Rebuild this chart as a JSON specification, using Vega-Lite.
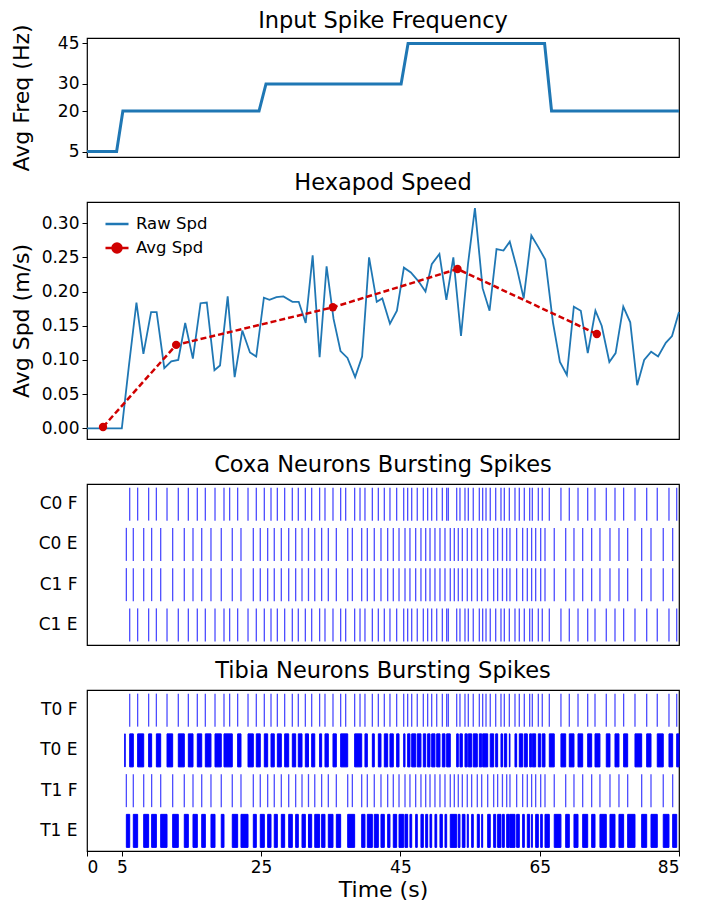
{
  "$schema": "https://vega.github.io/schema/vega-lite/v6.json",
  "padding": {"left": 9, "top": 9, "right": 5, "bottom": 0},
  "bounds": "flush",
  "spacing": 45,
  "resolve": {"scale": {"color": "independent"}, "legend": {"color": "independent"}},
  "config": {
    "font": "DejaVu Sans",
    "view": {"stroke": "#000", "strokeWidth": 1.2},
    "axis": {"labelFontSize": 17, "titleFontSize": 22, "titleFontWeight": "normal", "labelColor": "#000", "titleColor": "#000", "tickColor": "#000", "grid": false, "domain": false, "tickSize": 5, "labelPadding": 3, "labelFont": "DejaVu Sans", "titleFont": "DejaVu Sans", "labelOverlap": false},
    "title": {"fontSize": 22.5, "fontWeight": "normal", "color": "#000", "offset": 8, "font": "DejaVu Sans", "frame": "group"}
  },
  "datasets": {
    "freq": [
      {"t": 0, "hz": 5}, {"t": 4.25, "hz": 5}, {"t": 5.15, "hz": 20}, {"t": 24.7, "hz": 20}, {"t": 25.7, "hz": 30},
      {"t": 45.1, "hz": 30}, {"t": 46.1, "hz": 45}, {"t": 65.7, "hz": 45}, {"t": 66.7, "hz": 20}, {"t": 85, "hz": 20}
    ],
    "raw": [
      {"t": 0, "v": 0.0}, {"t": 1, "v": 0.0}, {"t": 2, "v": 0.0}, {"t": 3, "v": 0.0}, {"t": 4, "v": 0.0}, {"t": 5.0, "v": 0.0},
      {"t": 6.0, "v": 0.09}, {"t": 7.1, "v": 0.184}, {"t": 8.1, "v": 0.109}, {"t": 9.2, "v": 0.17}, {"t": 10.0, "v": 0.17},
      {"t": 11.1, "v": 0.088}, {"t": 12.1, "v": 0.098}, {"t": 13.1, "v": 0.1}, {"t": 14.1, "v": 0.154}, {"t": 15.2, "v": 0.102},
      {"t": 16.3, "v": 0.183}, {"t": 17.2, "v": 0.184}, {"t": 18.3, "v": 0.085}, {"t": 19.1, "v": 0.092}, {"t": 20.2, "v": 0.193},
      {"t": 21.2, "v": 0.075}, {"t": 22.3, "v": 0.143}, {"t": 23.4, "v": 0.111}, {"t": 24.3, "v": 0.105}, {"t": 25.4, "v": 0.191},
      {"t": 26.2, "v": 0.188}, {"t": 27.2, "v": 0.192}, {"t": 28.2, "v": 0.193}, {"t": 29.5, "v": 0.185}, {"t": 30.4, "v": 0.185},
      {"t": 31.4, "v": 0.154}, {"t": 32.4, "v": 0.253}, {"t": 33.4, "v": 0.104}, {"t": 34.4, "v": 0.237}, {"t": 35.4, "v": 0.16},
      {"t": 36.4, "v": 0.113}, {"t": 37.4, "v": 0.103}, {"t": 38.5, "v": 0.075}, {"t": 39.5, "v": 0.105}, {"t": 40.5, "v": 0.25},
      {"t": 41.6, "v": 0.185}, {"t": 42.4, "v": 0.19}, {"t": 43.5, "v": 0.153}, {"t": 44.5, "v": 0.172}, {"t": 45.5, "v": 0.235},
      {"t": 46.5, "v": 0.228}, {"t": 47.6, "v": 0.215}, {"t": 48.6, "v": 0.2}, {"t": 49.5, "v": 0.24}, {"t": 50.6, "v": 0.255},
      {"t": 51.6, "v": 0.188}, {"t": 52.6, "v": 0.25}, {"t": 53.7, "v": 0.135}, {"t": 54.7, "v": 0.24}, {"t": 55.7, "v": 0.322},
      {"t": 56.8, "v": 0.205}, {"t": 57.8, "v": 0.172}, {"t": 58.8, "v": 0.262}, {"t": 59.8, "v": 0.26}, {"t": 60.7, "v": 0.273},
      {"t": 61.7, "v": 0.235}, {"t": 62.7, "v": 0.19}, {"t": 63.8, "v": 0.282}, {"t": 64.8, "v": 0.265}, {"t": 65.8, "v": 0.247},
      {"t": 66.9, "v": 0.155}, {"t": 67.9, "v": 0.097}, {"t": 68.9, "v": 0.078}, {"t": 69.9, "v": 0.178}, {"t": 70.9, "v": 0.172},
      {"t": 71.9, "v": 0.11}, {"t": 73.0, "v": 0.172}, {"t": 73.9, "v": 0.15}, {"t": 75.0, "v": 0.097}, {"t": 75.9, "v": 0.11},
      {"t": 77.0, "v": 0.178}, {"t": 78.0, "v": 0.155}, {"t": 79.0, "v": 0.063}, {"t": 80.0, "v": 0.1}, {"t": 81.0, "v": 0.112},
      {"t": 82.0, "v": 0.105}, {"t": 83.1, "v": 0.125}, {"t": 84.0, "v": 0.135}, {"t": 85.0, "v": 0.17}
    ],
    "avg": [
      {"t": 2.3, "v": 0.002}, {"t": 12.8, "v": 0.122}, {"t": 35.3, "v": 0.177}, {"t": 53.2, "v": 0.233}, {"t": 73.2, "v": 0.138}
    ],
    "coxa": [
      {"n":"C0 F","t":6.13},{"n":"C0 F","t":7.27},{"n":"C0 F","t":8.85},{"n":"C0 F","t":9.96},{"n":"C0 F","t":11.49},{"n":"C0 F","t":13.11},{"n":"C0 F","t":14.55},{"n":"C0 F","t":15.84},{"n":"C0 F","t":16.99},{"n":"C0 F","t":18.38},{"n":"C0 F","t":19.67},{"n":"C0 F","t":20.48},{"n":"C0 F","t":21.63},{"n":"C0 F","t":23.12},{"n":"C0 F","t":24.31},{"n":"C0 F","t":25.46},{"n":"C0 F","t":26.42},{"n":"C0 F","t":27.33},{"n":"C0 F","t":28.38},{"n":"C0 F","t":29.48},{"n":"C0 F","t":30.34},{"n":"C0 F","t":31.35},{"n":"C0 F","t":32.26},{"n":"C0 F","t":33.4},{"n":"C0 F","t":34.17},{"n":"C0 F","t":35.32},{"n":"C0 F","t":36.42},{"n":"C0 F","t":37.14},{"n":"C0 F","t":38.43},{"n":"C0 F","t":39.2},{"n":"C0 F","t":39.91},{"n":"C0 F","t":40.97},{"n":"C0 F","t":41.83},{"n":"C0 F","t":42.69},{"n":"C0 F","t":43.5},{"n":"C0 F","t":44.46},{"n":"C0 F","t":45.47},{"n":"C0 F","t":46.04},{"n":"C0 F","t":46.62},{"n":"C0 F","t":47.42},{"n":"C0 F","t":48.29},{"n":"C0 F","t":48.91},{"n":"C0 F","t":49.49},{"n":"C0 F","t":50.21},{"n":"C0 F","t":51.02},{"n":"C0 F","t":51.64},{"n":"C0 F","t":51.88},{"n":"C0 F","t":53.08},{"n":"C0 F","t":53.55},{"n":"C0 F","t":54.27},{"n":"C0 F","t":54.75},{"n":"C0 F","t":55.46},{"n":"C0 F","t":56.33},{"n":"C0 F","t":56.81},{"n":"C0 F","t":57.29},{"n":"C0 F","t":57.9},{"n":"C0 F","t":58.68},{"n":"C0 F","t":59.44},{"n":"C0 F","t":59.92},{"n":"C0 F","t":60.64},{"n":"C0 F","t":61.45},{"n":"C0 F","t":62.07},{"n":"C0 F","t":62.79},{"n":"C0 F","t":63.56},{"n":"C0 F","t":63.94},{"n":"C0 F","t":64.8},{"n":"C0 F","t":65.37},{"n":"C0 F","t":66.38},{"n":"C0 F","t":68.05},{"n":"C0 F","t":69.25},{"n":"C0 F","t":70.5},{"n":"C0 F","t":71.89},{"n":"C0 F","t":72.94},{"n":"C0 F","t":74.56},{"n":"C0 F","t":75.81},{"n":"C0 F","t":77.05},{"n":"C0 F","t":78.68},{"n":"C0 F","t":80.36},{"n":"C0 F","t":81.88},{"n":"C0 F","t":83.56},{"n":"C0 F","t":84.67},
      {"n":"C1 E","t":6.13},{"n":"C1 E","t":7.27},{"n":"C1 E","t":8.85},{"n":"C1 E","t":9.96},{"n":"C1 E","t":11.49},{"n":"C1 E","t":13.11},{"n":"C1 E","t":14.55},{"n":"C1 E","t":15.84},{"n":"C1 E","t":16.99},{"n":"C1 E","t":18.38},{"n":"C1 E","t":19.67},{"n":"C1 E","t":20.48},{"n":"C1 E","t":21.63},{"n":"C1 E","t":23.12},{"n":"C1 E","t":24.31},{"n":"C1 E","t":25.46},{"n":"C1 E","t":26.42},{"n":"C1 E","t":27.33},{"n":"C1 E","t":28.38},{"n":"C1 E","t":29.48},{"n":"C1 E","t":30.34},{"n":"C1 E","t":31.35},{"n":"C1 E","t":32.26},{"n":"C1 E","t":33.4},{"n":"C1 E","t":34.17},{"n":"C1 E","t":35.32},{"n":"C1 E","t":36.42},{"n":"C1 E","t":37.14},{"n":"C1 E","t":38.43},{"n":"C1 E","t":39.2},{"n":"C1 E","t":39.91},{"n":"C1 E","t":40.97},{"n":"C1 E","t":41.83},{"n":"C1 E","t":42.69},{"n":"C1 E","t":43.5},{"n":"C1 E","t":44.46},{"n":"C1 E","t":45.47},{"n":"C1 E","t":46.04},{"n":"C1 E","t":46.62},{"n":"C1 E","t":47.42},{"n":"C1 E","t":48.29},{"n":"C1 E","t":48.91},{"n":"C1 E","t":49.49},{"n":"C1 E","t":50.21},{"n":"C1 E","t":51.02},{"n":"C1 E","t":51.64},{"n":"C1 E","t":51.88},{"n":"C1 E","t":53.08},{"n":"C1 E","t":53.55},{"n":"C1 E","t":54.27},{"n":"C1 E","t":54.75},{"n":"C1 E","t":55.46},{"n":"C1 E","t":56.33},{"n":"C1 E","t":56.81},{"n":"C1 E","t":57.29},{"n":"C1 E","t":57.9},{"n":"C1 E","t":58.68},{"n":"C1 E","t":59.44},{"n":"C1 E","t":59.92},{"n":"C1 E","t":60.64},{"n":"C1 E","t":61.45},{"n":"C1 E","t":62.07},{"n":"C1 E","t":62.79},{"n":"C1 E","t":63.56},{"n":"C1 E","t":63.94},{"n":"C1 E","t":64.8},{"n":"C1 E","t":65.37},{"n":"C1 E","t":66.38},{"n":"C1 E","t":68.05},{"n":"C1 E","t":69.25},{"n":"C1 E","t":70.5},{"n":"C1 E","t":71.89},{"n":"C1 E","t":72.94},{"n":"C1 E","t":74.56},{"n":"C1 E","t":75.81},{"n":"C1 E","t":77.05},{"n":"C1 E","t":78.68},{"n":"C1 E","t":80.36},{"n":"C1 E","t":81.88},{"n":"C1 E","t":83.56},{"n":"C1 E","t":84.67},
      {"n":"C0 E","t":5.65},{"n":"C0 E","t":6.65},{"n":"C0 E","t":8.14},{"n":"C0 E","t":9.28},{"n":"C0 E","t":10.58},{"n":"C0 E","t":12.3},{"n":"C0 E","t":13.97},{"n":"C0 E","t":15.22},{"n":"C0 E","t":16.47},{"n":"C0 E","t":17.8},{"n":"C0 E","t":19.28},{"n":"C0 E","t":20.86},{"n":"C0 E","t":22.11},{"n":"C0 E","t":23.88},{"n":"C0 E","t":24.88},{"n":"C0 E","t":25.94},{"n":"C0 E","t":26.89},{"n":"C0 E","t":27.9},{"n":"C0 E","t":28.96},{"n":"C0 E","t":29.96},{"n":"C0 E","t":30.87},{"n":"C0 E","t":31.8},{"n":"C0 E","t":32.7},{"n":"C0 E","t":33.69},{"n":"C0 E","t":34.65},{"n":"C0 E","t":35.8},{"n":"C0 E","t":37.43},{"n":"C0 E","t":38.1},{"n":"C0 E","t":39.44},{"n":"C0 E","t":40.25},{"n":"C0 E","t":41.25},{"n":"C0 E","t":42.21},{"n":"C0 E","t":43.17},{"n":"C0 E","t":43.98},{"n":"C0 E","t":44.8},{"n":"C0 E","t":45.66},{"n":"C0 E","t":46.37},{"n":"C0 E","t":47.19},{"n":"C0 E","t":47.95},{"n":"C0 E","t":48.63},{"n":"C0 E","t":49.25},{"n":"C0 E","t":49.96},{"n":"C0 E","t":50.68},{"n":"C0 E","t":51.4},{"n":"C0 E","t":52.16},{"n":"C0 E","t":52.74},{"n":"C0 E","t":53.31},{"n":"C0 E","t":53.89},{"n":"C0 E","t":54.6},{"n":"C0 E","t":55.23},{"n":"C0 E","t":56.04},{"n":"C0 E","t":56.67},{"n":"C0 E","t":57.53},{"n":"C0 E","t":58.39},{"n":"C0 E","t":58.96},{"n":"C0 E","t":59.65},{"n":"C0 E","t":60.26},{"n":"C0 E","t":60.73},{"n":"C0 E","t":61.69},{"n":"C0 E","t":62.55},{"n":"C0 E","t":63.22},{"n":"C0 E","t":63.84},{"n":"C0 E","t":64.42},{"n":"C0 E","t":65.14},{"n":"C0 E","t":65.76},{"n":"C0 E","t":67.09},{"n":"C0 E","t":68.73},{"n":"C0 E","t":69.92},{"n":"C0 E","t":71.17},{"n":"C0 E","t":72.46},{"n":"C0 E","t":73.65},{"n":"C0 E","t":75.09},{"n":"C0 E","t":76.38},{"n":"C0 E","t":77.63},{"n":"C0 E","t":79.64},{"n":"C0 E","t":80.98},{"n":"C0 E","t":82.74},{"n":"C0 E","t":84.09},
      {"n":"C1 F","t":5.65},{"n":"C1 F","t":6.65},{"n":"C1 F","t":8.14},{"n":"C1 F","t":9.28},{"n":"C1 F","t":10.58},{"n":"C1 F","t":12.3},{"n":"C1 F","t":13.97},{"n":"C1 F","t":15.22},{"n":"C1 F","t":16.47},{"n":"C1 F","t":17.8},{"n":"C1 F","t":19.28},{"n":"C1 F","t":20.86},{"n":"C1 F","t":22.11},{"n":"C1 F","t":23.88},{"n":"C1 F","t":24.88},{"n":"C1 F","t":25.94},{"n":"C1 F","t":26.89},{"n":"C1 F","t":27.9},{"n":"C1 F","t":28.96},{"n":"C1 F","t":29.96},{"n":"C1 F","t":30.87},{"n":"C1 F","t":31.8},{"n":"C1 F","t":32.7},{"n":"C1 F","t":33.69},{"n":"C1 F","t":34.65},{"n":"C1 F","t":35.8},{"n":"C1 F","t":37.43},{"n":"C1 F","t":38.1},{"n":"C1 F","t":39.44},{"n":"C1 F","t":40.25},{"n":"C1 F","t":41.25},{"n":"C1 F","t":42.21},{"n":"C1 F","t":43.17},{"n":"C1 F","t":43.98},{"n":"C1 F","t":44.8},{"n":"C1 F","t":45.66},{"n":"C1 F","t":46.37},{"n":"C1 F","t":47.19},{"n":"C1 F","t":47.95},{"n":"C1 F","t":48.63},{"n":"C1 F","t":49.25},{"n":"C1 F","t":49.96},{"n":"C1 F","t":50.68},{"n":"C1 F","t":51.4},{"n":"C1 F","t":52.16},{"n":"C1 F","t":52.74},{"n":"C1 F","t":53.31},{"n":"C1 F","t":53.89},{"n":"C1 F","t":54.6},{"n":"C1 F","t":55.23},{"n":"C1 F","t":56.04},{"n":"C1 F","t":56.67},{"n":"C1 F","t":57.53},{"n":"C1 F","t":58.39},{"n":"C1 F","t":58.96},{"n":"C1 F","t":59.65},{"n":"C1 F","t":60.26},{"n":"C1 F","t":60.73},{"n":"C1 F","t":61.69},{"n":"C1 F","t":62.55},{"n":"C1 F","t":63.22},{"n":"C1 F","t":63.84},{"n":"C1 F","t":64.42},{"n":"C1 F","t":65.14},{"n":"C1 F","t":65.76},{"n":"C1 F","t":67.09},{"n":"C1 F","t":68.73},{"n":"C1 F","t":69.92},{"n":"C1 F","t":71.17},{"n":"C1 F","t":72.46},{"n":"C1 F","t":73.65},{"n":"C1 F","t":75.09},{"n":"C1 F","t":76.38},{"n":"C1 F","t":77.63},{"n":"C1 F","t":79.64},{"n":"C1 F","t":80.98},{"n":"C1 F","t":82.74},{"n":"C1 F","t":84.09}
    ],
    "tibia": [
      {"n":"T0 F","t":6.13},{"n":"T0 F","t":7.27},{"n":"T0 F","t":8.85},{"n":"T0 F","t":9.96},{"n":"T0 F","t":11.49},{"n":"T0 F","t":13.11},{"n":"T0 F","t":14.55},{"n":"T0 F","t":15.84},{"n":"T0 F","t":16.99},{"n":"T0 F","t":18.38},{"n":"T0 F","t":19.67},{"n":"T0 F","t":20.48},{"n":"T0 F","t":21.63},{"n":"T0 F","t":23.12},{"n":"T0 F","t":24.31},{"n":"T0 F","t":25.46},{"n":"T0 F","t":26.42},{"n":"T0 F","t":27.33},{"n":"T0 F","t":28.38},{"n":"T0 F","t":29.48},{"n":"T0 F","t":30.34},{"n":"T0 F","t":31.35},{"n":"T0 F","t":32.26},{"n":"T0 F","t":33.4},{"n":"T0 F","t":34.17},{"n":"T0 F","t":35.32},{"n":"T0 F","t":36.42},{"n":"T0 F","t":37.14},{"n":"T0 F","t":38.43},{"n":"T0 F","t":39.2},{"n":"T0 F","t":39.91},{"n":"T0 F","t":40.97},{"n":"T0 F","t":41.83},{"n":"T0 F","t":42.69},{"n":"T0 F","t":43.5},{"n":"T0 F","t":44.46},{"n":"T0 F","t":45.47},{"n":"T0 F","t":46.04},{"n":"T0 F","t":46.62},{"n":"T0 F","t":47.42},{"n":"T0 F","t":48.29},{"n":"T0 F","t":48.91},{"n":"T0 F","t":49.49},{"n":"T0 F","t":50.21},{"n":"T0 F","t":51.02},{"n":"T0 F","t":51.64},{"n":"T0 F","t":51.88},{"n":"T0 F","t":53.08},{"n":"T0 F","t":53.55},{"n":"T0 F","t":54.27},{"n":"T0 F","t":54.75},{"n":"T0 F","t":55.46},{"n":"T0 F","t":56.33},{"n":"T0 F","t":56.81},{"n":"T0 F","t":57.29},{"n":"T0 F","t":57.9},{"n":"T0 F","t":58.68},{"n":"T0 F","t":59.44},{"n":"T0 F","t":59.92},{"n":"T0 F","t":60.64},{"n":"T0 F","t":61.45},{"n":"T0 F","t":62.07},{"n":"T0 F","t":62.79},{"n":"T0 F","t":63.56},{"n":"T0 F","t":63.94},{"n":"T0 F","t":64.8},{"n":"T0 F","t":65.37},{"n":"T0 F","t":66.38},{"n":"T0 F","t":68.05},{"n":"T0 F","t":69.25},{"n":"T0 F","t":70.5},{"n":"T0 F","t":71.89},{"n":"T0 F","t":72.94},{"n":"T0 F","t":74.56},{"n":"T0 F","t":75.81},{"n":"T0 F","t":77.05},{"n":"T0 F","t":78.68},{"n":"T0 F","t":80.36},{"n":"T0 F","t":81.88},{"n":"T0 F","t":83.56},{"n":"T0 F","t":84.67},
      {"n":"T1 F","t":5.65},{"n":"T1 F","t":6.65},{"n":"T1 F","t":8.14},{"n":"T1 F","t":9.28},{"n":"T1 F","t":10.58},{"n":"T1 F","t":12.3},{"n":"T1 F","t":13.97},{"n":"T1 F","t":15.22},{"n":"T1 F","t":16.47},{"n":"T1 F","t":17.8},{"n":"T1 F","t":19.28},{"n":"T1 F","t":20.86},{"n":"T1 F","t":22.11},{"n":"T1 F","t":23.88},{"n":"T1 F","t":24.88},{"n":"T1 F","t":25.94},{"n":"T1 F","t":26.89},{"n":"T1 F","t":27.9},{"n":"T1 F","t":28.96},{"n":"T1 F","t":29.96},{"n":"T1 F","t":30.87},{"n":"T1 F","t":31.8},{"n":"T1 F","t":32.7},{"n":"T1 F","t":33.69},{"n":"T1 F","t":34.65},{"n":"T1 F","t":35.8},{"n":"T1 F","t":37.43},{"n":"T1 F","t":38.1},{"n":"T1 F","t":39.44},{"n":"T1 F","t":40.25},{"n":"T1 F","t":41.25},{"n":"T1 F","t":42.21},{"n":"T1 F","t":43.17},{"n":"T1 F","t":43.98},{"n":"T1 F","t":44.8},{"n":"T1 F","t":45.66},{"n":"T1 F","t":46.37},{"n":"T1 F","t":47.19},{"n":"T1 F","t":47.95},{"n":"T1 F","t":48.63},{"n":"T1 F","t":49.25},{"n":"T1 F","t":49.96},{"n":"T1 F","t":50.68},{"n":"T1 F","t":51.4},{"n":"T1 F","t":52.16},{"n":"T1 F","t":52.74},{"n":"T1 F","t":53.31},{"n":"T1 F","t":53.89},{"n":"T1 F","t":54.6},{"n":"T1 F","t":55.23},{"n":"T1 F","t":56.04},{"n":"T1 F","t":56.67},{"n":"T1 F","t":57.53},{"n":"T1 F","t":58.39},{"n":"T1 F","t":58.96},{"n":"T1 F","t":59.65},{"n":"T1 F","t":60.26},{"n":"T1 F","t":60.73},{"n":"T1 F","t":61.69},{"n":"T1 F","t":62.55},{"n":"T1 F","t":63.22},{"n":"T1 F","t":63.84},{"n":"T1 F","t":64.42},{"n":"T1 F","t":65.14},{"n":"T1 F","t":65.76},{"n":"T1 F","t":67.09},{"n":"T1 F","t":68.73},{"n":"T1 F","t":69.92},{"n":"T1 F","t":71.17},{"n":"T1 F","t":72.46},{"n":"T1 F","t":73.65},{"n":"T1 F","t":75.09},{"n":"T1 F","t":76.38},{"n":"T1 F","t":77.63},{"n":"T1 F","t":79.64},{"n":"T1 F","t":80.98},{"n":"T1 F","t":82.74},{"n":"T1 F","t":84.09}
    ],
    "bursts": [
      {"n":"T0 E","a":5.42,"b":5.48},{"n":"T0 E","a":6.13,"b":6.65},{"n":"T0 E","a":7.27,"b":8.14},{"n":"T0 E","a":8.85,"b":9.28},{"n":"T0 E","a":9.96,"b":10.58},{"n":"T0 E","a":11.49,"b":12.3},{"n":"T0 E","a":13.11,"b":13.97},{"n":"T0 E","a":14.55,"b":15.22},{"n":"T0 E","a":15.84,"b":16.47},{"n":"T0 E","a":16.99,"b":17.8},{"n":"T0 E","a":18.38,"b":19.28},{"n":"T0 E","a":19.67,"b":20.86},{"n":"T0 E","a":21.63,"b":22.11},{"n":"T0 E","a":23.12,"b":23.88},{"n":"T0 E","a":24.31,"b":24.88},{"n":"T0 E","a":25.46,"b":25.94},{"n":"T0 E","a":26.42,"b":26.89},{"n":"T0 E","a":27.33,"b":27.9},{"n":"T0 E","a":28.38,"b":28.96},{"n":"T0 E","a":29.48,"b":29.96},{"n":"T0 E","a":30.34,"b":30.87},{"n":"T0 E","a":31.35,"b":31.8},{"n":"T0 E","a":32.26,"b":32.7},{"n":"T0 E","a":33.4,"b":33.69},{"n":"T0 E","a":34.17,"b":34.65},{"n":"T0 E","a":35.32,"b":35.8},{"n":"T0 E","a":36.42,"b":37.43},{"n":"T0 E","a":38.43,"b":39.44},{"n":"T0 E","a":39.91,"b":40.25},{"n":"T0 E","a":40.97,"b":41.25},{"n":"T0 E","a":41.83,"b":42.21},{"n":"T0 E","a":42.69,"b":43.17},{"n":"T0 E","a":43.5,"b":43.98},{"n":"T0 E","a":44.46,"b":44.8},{"n":"T0 E","a":45.47,"b":45.66},{"n":"T0 E","a":46.04,"b":46.37},{"n":"T0 E","a":46.62,"b":47.19},{"n":"T0 E","a":47.42,"b":47.95},{"n":"T0 E","a":48.29,"b":48.63},{"n":"T0 E","a":48.91,"b":49.25},{"n":"T0 E","a":49.49,"b":49.96},{"n":"T0 E","a":50.21,"b":50.68},{"n":"T0 E","a":51.02,"b":51.4},{"n":"T0 E","a":51.64,"b":52.16},{"n":"T0 E","a":53.08,"b":53.31},{"n":"T0 E","a":53.55,"b":53.89},{"n":"T0 E","a":54.27,"b":54.6},{"n":"T0 E","a":54.75,"b":55.23},{"n":"T0 E","a":55.46,"b":56.04},{"n":"T0 E","a":56.33,"b":56.67},{"n":"T0 E","a":56.81,"b":57.53},{"n":"T0 E","a":57.9,"b":58.39},{"n":"T0 E","a":58.68,"b":58.96},{"n":"T0 E","a":59.44,"b":59.65},{"n":"T0 E","a":59.92,"b":60.26},{"n":"T0 E","a":60.64,"b":60.73},{"n":"T0 E","a":61.45,"b":61.69},{"n":"T0 E","a":62.07,"b":62.55},{"n":"T0 E","a":62.79,"b":63.22},{"n":"T0 E","a":63.56,"b":63.84},{"n":"T0 E","a":63.94,"b":64.42},{"n":"T0 E","a":64.8,"b":65.14},{"n":"T0 E","a":65.37,"b":65.76},{"n":"T0 E","a":66.38,"b":67.09},{"n":"T0 E","a":68.05,"b":68.73},{"n":"T0 E","a":69.25,"b":69.92},{"n":"T0 E","a":70.5,"b":71.17},{"n":"T0 E","a":71.89,"b":72.46},{"n":"T0 E","a":72.94,"b":73.65},{"n":"T0 E","a":74.56,"b":75.09},{"n":"T0 E","a":75.81,"b":76.38},{"n":"T0 E","a":77.05,"b":77.63},{"n":"T0 E","a":78.68,"b":79.64},{"n":"T0 E","a":80.36,"b":80.98},{"n":"T0 E","a":81.88,"b":82.74},{"n":"T0 E","a":83.56,"b":84.09},{"n":"T0 E","a":84.67,"b":85.0},
      {"n":"T1 E","a":5.65,"b":6.13},{"n":"T1 E","a":6.65,"b":7.27},{"n":"T1 E","a":8.14,"b":8.85},{"n":"T1 E","a":9.28,"b":9.96},{"n":"T1 E","a":10.58,"b":11.49},{"n":"T1 E","a":12.3,"b":13.11},{"n":"T1 E","a":13.97,"b":14.55},{"n":"T1 E","a":15.22,"b":15.84},{"n":"T1 E","a":16.47,"b":16.99},{"n":"T1 E","a":17.8,"b":18.38},{"n":"T1 E","a":19.28,"b":19.67},{"n":"T1 E","a":20.86,"b":21.63},{"n":"T1 E","a":22.11,"b":23.12},{"n":"T1 E","a":23.88,"b":24.31},{"n":"T1 E","a":24.88,"b":25.46},{"n":"T1 E","a":25.94,"b":26.42},{"n":"T1 E","a":26.89,"b":27.33},{"n":"T1 E","a":27.9,"b":28.38},{"n":"T1 E","a":28.96,"b":29.48},{"n":"T1 E","a":29.96,"b":30.34},{"n":"T1 E","a":30.87,"b":31.35},{"n":"T1 E","a":31.8,"b":32.26},{"n":"T1 E","a":32.7,"b":33.4},{"n":"T1 E","a":33.69,"b":34.17},{"n":"T1 E","a":34.65,"b":35.32},{"n":"T1 E","a":35.8,"b":36.42},{"n":"T1 E","a":37.43,"b":38.43},{"n":"T1 E","a":39.44,"b":39.91},{"n":"T1 E","a":40.25,"b":40.97},{"n":"T1 E","a":41.25,"b":41.83},{"n":"T1 E","a":42.21,"b":42.69},{"n":"T1 E","a":43.17,"b":43.5},{"n":"T1 E","a":43.98,"b":44.46},{"n":"T1 E","a":44.8,"b":45.47},{"n":"T1 E","a":45.66,"b":46.04},{"n":"T1 E","a":46.37,"b":46.62},{"n":"T1 E","a":47.19,"b":47.42},{"n":"T1 E","a":47.95,"b":48.29},{"n":"T1 E","a":48.63,"b":48.91},{"n":"T1 E","a":49.25,"b":49.49},{"n":"T1 E","a":49.96,"b":50.21},{"n":"T1 E","a":50.68,"b":51.02},{"n":"T1 E","a":51.4,"b":51.64},{"n":"T1 E","a":52.16,"b":53.08},{"n":"T1 E","a":53.31,"b":53.55},{"n":"T1 E","a":53.89,"b":54.27},{"n":"T1 E","a":54.6,"b":54.75},{"n":"T1 E","a":55.23,"b":55.46},{"n":"T1 E","a":56.04,"b":56.33},{"n":"T1 E","a":56.67,"b":56.81},{"n":"T1 E","a":57.53,"b":57.9},{"n":"T1 E","a":58.39,"b":58.68},{"n":"T1 E","a":58.96,"b":59.44},{"n":"T1 E","a":59.65,"b":59.92},{"n":"T1 E","a":60.26,"b":60.64},{"n":"T1 E","a":60.73,"b":61.45},{"n":"T1 E","a":61.69,"b":62.07},{"n":"T1 E","a":62.55,"b":62.79},{"n":"T1 E","a":63.22,"b":63.56},{"n":"T1 E","a":63.84,"b":63.94},{"n":"T1 E","a":64.42,"b":64.8},{"n":"T1 E","a":65.14,"b":65.37},{"n":"T1 E","a":65.76,"b":66.38},{"n":"T1 E","a":67.09,"b":68.05},{"n":"T1 E","a":68.73,"b":69.25},{"n":"T1 E","a":69.92,"b":70.5},{"n":"T1 E","a":71.17,"b":71.89},{"n":"T1 E","a":72.46,"b":72.94},{"n":"T1 E","a":73.65,"b":74.56},{"n":"T1 E","a":75.09,"b":75.81},{"n":"T1 E","a":76.38,"b":77.05},{"n":"T1 E","a":77.63,"b":78.68},{"n":"T1 E","a":79.64,"b":80.36},{"n":"T1 E","a":80.98,"b":81.88},{"n":"T1 E","a":82.74,"b":83.56},{"n":"T1 E","a":84.09,"b":84.67}
    ]
  },
  "vconcat": [
    {
      "title": {"text": "Input Spike Frequency", "frame": "group", "offset": -9},
      "width": 592,
      "height": 119,
      "data": {"name": "freq"},
      "mark": {"type": "line", "color": "#1f77b4", "strokeWidth": 3},
      "encoding": {
        "x": {"field": "t", "type": "quantitative", "scale": {"domain": [0, 85], "nice": false, "zero": false}, "axis": null},
        "y": {"field": "hz", "type": "quantitative", "scale": {"domain": [3, 47], "nice": false, "zero": false},
              "axis": {"title": "Avg Freq (Hz)", "values": [5, 20, 30, 45], "titleX": -54, "labelOverlap": false}}
      }
    },
    {
      "title": {"text": "Hexapod Speed", "frame": "group", "offset": 8},
      "width": 592,
      "height": 237,
      "encoding": {
        "x": {"field": "t", "type": "quantitative", "scale": {"domain": [0, 85], "nice": false, "zero": false}, "axis": null},
        "y": {"field": "v", "type": "quantitative", "scale": {"domain": [-0.0156, 0.331], "nice": false, "zero": false},
              "axis": {"title": "Avg Spd (m/s)", "values": [0, 0.05, 0.1, 0.15, 0.2, 0.25, 0.3], "format": ".2f", "titleX": -54, "labelOverlap": false, "labelBound": false}}
      },
      "layer": [
        {
          "data": {"name": "raw"},
          "mark": {"type": "line", "strokeWidth": 1.8},
          "encoding": {
            "color": {"datum": "Raw Spd", "type": "nominal",
                      "scale": {"domain": ["Raw Spd", "Avg Spd"], "range": ["#1f77b4", "#d00000"]},
                      "legend": {"title": null, "orient": "none", "legendX": 17, "legendY": 9, "symbolType": "stroke", "symbolSize": 530,
                                 "symbolStrokeWidth": 2.5, "labelFontSize": 16.5, "labelOffset": 6, "rowPadding": 2, "padding": 0, "labelColor": "#000",
                                 "encode": {"symbols": {"update": {
                                   "shape": {"signal": "datum.value === 'Avg Spd' ? 'M-1,0L1,0M-0.39,0A0.39,0.39,0,1,0,0.39,0A0.39,0.39,0,1,0,-0.39,0Z' : 'stroke'"},
                                   "fill": {"signal": "datum.value === 'Avg Spd' ? '#d00000' : 'transparent'"}}}}}}
          }
        },
        {
          "data": {"name": "avg"},
          "mark": {"type": "line", "strokeWidth": 2.5, "strokeDash": [6, 3], "point": {"filled": true, "size": 70, "color": "#d00000"}},
          "encoding": {
            "color": {"datum": "Avg Spd", "type": "nominal"}
          }
        }
      ]
    },
    {
      "title": {"text": "Coxa Neurons Bursting Spikes", "frame": "group", "offset": 8},
      "width": 592,
      "height": 161,
      "data": {"name": "coxa"},
      "mark": {"type": "tick", "thickness": 1.3, "size": 33, "color": "#0000ff", "opacity": 0.7},
      "encoding": {
        "x": {"field": "t", "type": "quantitative", "scale": {"domain": [0, 85], "nice": false, "zero": false}, "axis": null},
        "y": {"field": "n", "type": "nominal", "scale": {"domain": ["C0 F", "C0 E", "C1 F", "C1 E"], "paddingInner": 0.18, "paddingOuter": 0.09},
              "axis": {"title": null, "ticks": false, "labelPadding": 10}}
      }
    },
    {
      "title": {"text": "Tibia Neurons Bursting Spikes", "frame": "group", "offset": 8},
      "width": 592,
      "height": 161,
      "encoding": {
        "y": {"field": "n", "type": "nominal", "scale": {"domain": ["T0 F", "T0 E", "T1 F", "T1 E"], "paddingInner": 0.18, "paddingOuter": 0.09},
              "axis": {"title": null, "ticks": false, "labelPadding": 10}}
      },
      "layer": [
        {
          "data": {"name": "tibia"},
          "mark": {"type": "tick", "thickness": 1.3, "size": 33, "color": "#0000ff", "opacity": 0.7},
          "encoding": {
            "x": {"field": "t", "type": "quantitative", "scale": {"domain": [0, 85], "nice": false, "zero": false},
                  "axis": {"title": "Time (s)", "values": [0, 5, 25, 45, 65, 85], "tickSize": 5, "titlePadding": 4, "labelOverlap": false}}
          }
        },
        {
          "data": {"name": "bursts"},
          "mark": {"type": "rect", "color": "#0000ff", "stroke": "#0000ff", "strokeWidth": 1},
          "encoding": {
            "x": {"field": "a", "type": "quantitative"},
            "x2": {"field": "b"}
          }
        }
      ]
    }
  ]
}
